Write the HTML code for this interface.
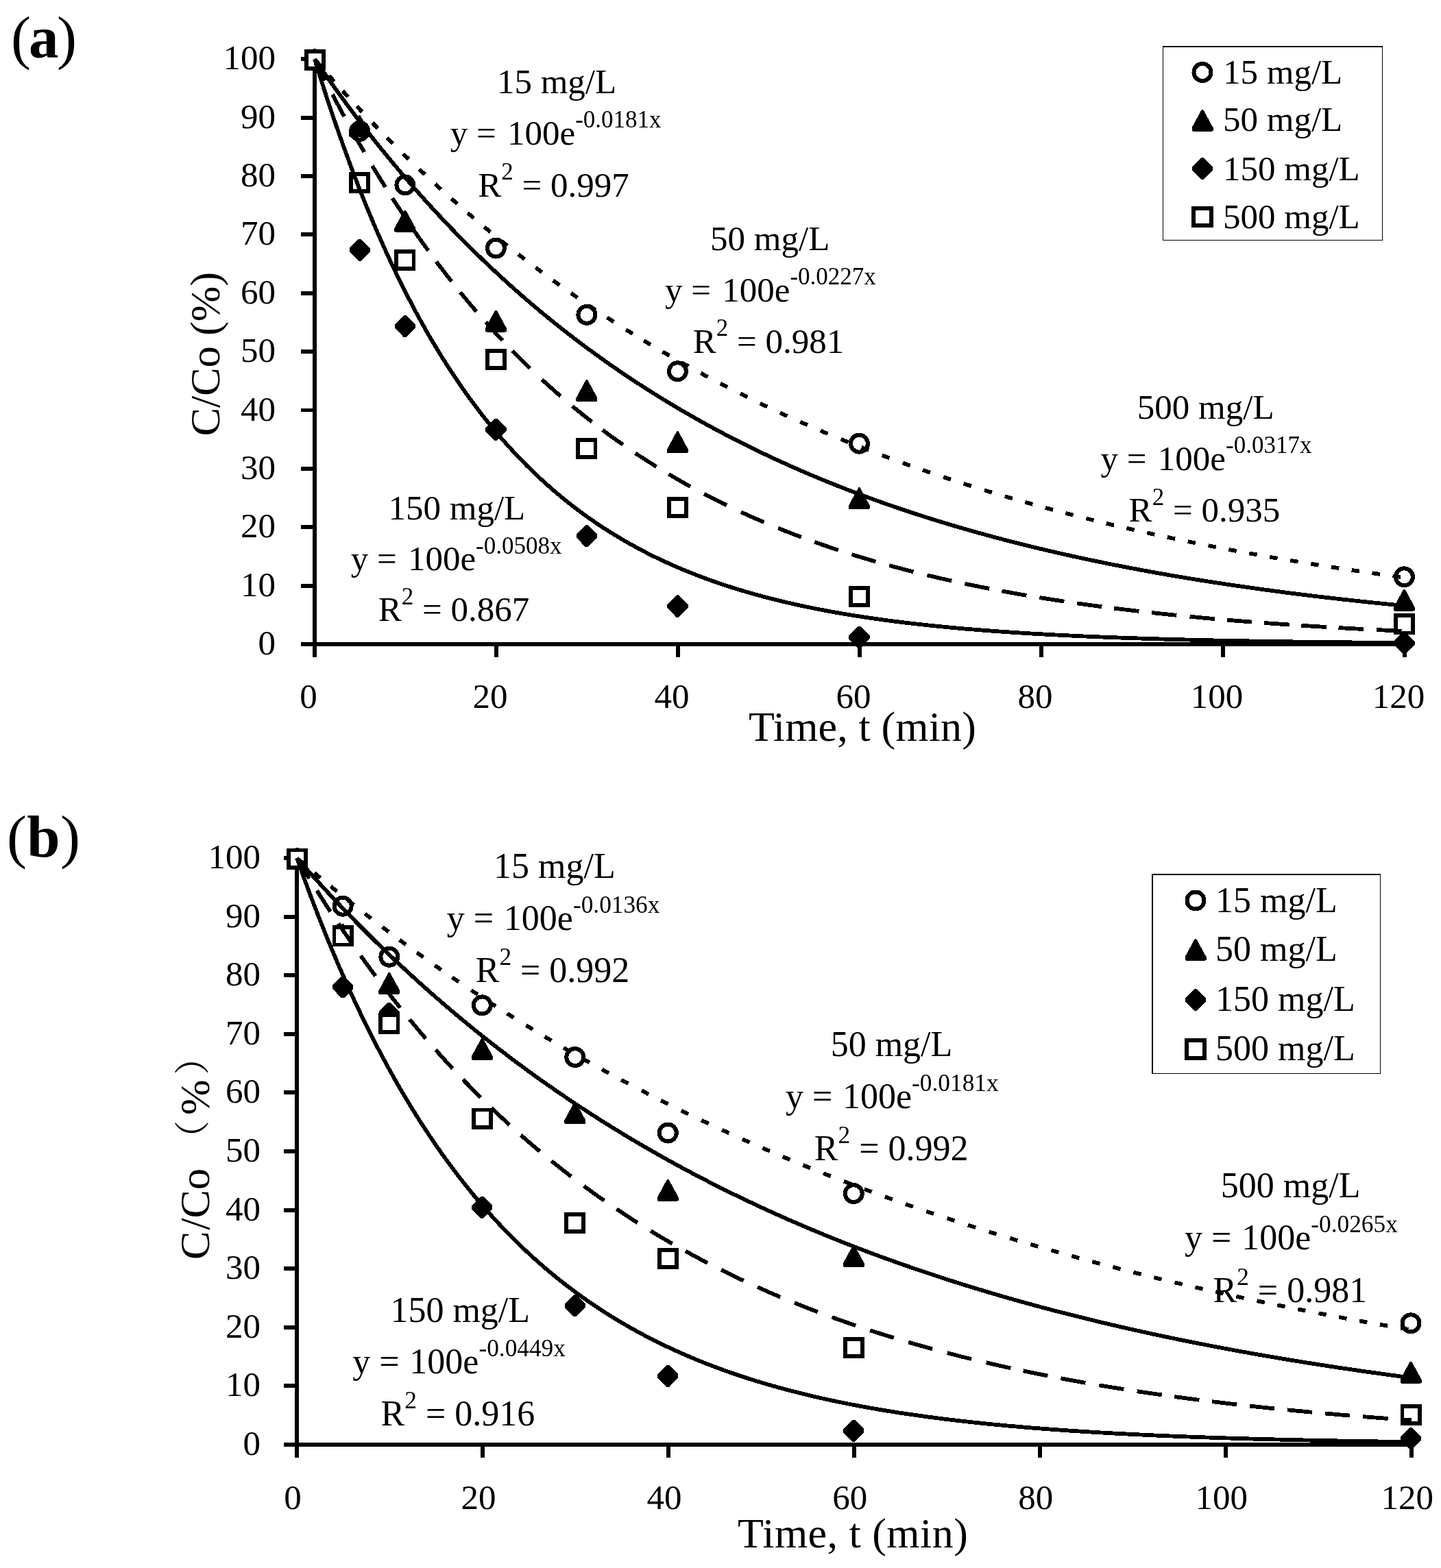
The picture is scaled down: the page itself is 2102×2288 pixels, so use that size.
<!DOCTYPE html>
<html><head><meta charset="utf-8"><title>C/Co vs Time</title>
<style>
html,body{margin:0;padding:0;background:#fff;}
svg{display:block;font-family:"Liberation Serif","Noto Serif CJK SC",serif;}
.cjk{font-family:"Liberation Serif","Noto Serif CJK SC",serif;}
</style></head><body>
<svg shape-rendering="crispEdges" width="2102" height="2288" viewBox="0 0 2102 2288">
<rect width="2102" height="2288" fill="#fff"/>
<text y="83.8" font-size="87"><tspan x="16">(</tspan><tspan x="42" font-weight="bold">a</tspan><tspan x="83">)</tspan></text>
<g stroke="#000" stroke-width="5.9">
<line x1="459" y1="83.3" x2="459" y2="943"/>
<line x1="439" y1="940" x2="2052" y2="940"/>
<line x1="439" y1="940" x2="459" y2="940"/>
<line x1="439" y1="854.63" x2="459" y2="854.63"/>
<line x1="439" y1="769.26" x2="459" y2="769.26"/>
<line x1="439" y1="683.89" x2="459" y2="683.89"/>
<line x1="439" y1="598.52" x2="459" y2="598.52"/>
<line x1="439" y1="513.15" x2="459" y2="513.15"/>
<line x1="439" y1="427.78" x2="459" y2="427.78"/>
<line x1="439" y1="342.41" x2="459" y2="342.41"/>
<line x1="439" y1="257.04" x2="459" y2="257.04"/>
<line x1="439" y1="171.67" x2="459" y2="171.67"/>
<line x1="439" y1="86.3" x2="459" y2="86.3"/>
<line x1="459" y1="940" x2="459" y2="959"/>
<line x1="724" y1="940" x2="724" y2="959"/>
<line x1="989" y1="940" x2="989" y2="959"/>
<line x1="1254" y1="940" x2="1254" y2="959"/>
<line x1="1519" y1="940" x2="1519" y2="959"/>
<line x1="1784" y1="940" x2="1784" y2="959"/>
<line x1="2049" y1="940" x2="2049" y2="959"/>
</g>
<text x="402" y="955" font-size="51" text-anchor="end">0</text>
<text x="402" y="869.63" font-size="51" text-anchor="end">10</text>
<text x="402" y="784.26" font-size="51" text-anchor="end">20</text>
<text x="402" y="698.89" font-size="51" text-anchor="end">30</text>
<text x="402" y="613.52" font-size="51" text-anchor="end">40</text>
<text x="402" y="528.15" font-size="51" text-anchor="end">50</text>
<text x="402" y="442.78" font-size="51" text-anchor="end">60</text>
<text x="402" y="357.41" font-size="51" text-anchor="end">70</text>
<text x="402" y="272.04" font-size="51" text-anchor="end">80</text>
<text x="402" y="186.67" font-size="51" text-anchor="end">90</text>
<text x="402" y="101.3" font-size="51" text-anchor="end">100</text>
<text x="450" y="1032.5" font-size="51" text-anchor="middle">0</text>
<text x="715" y="1032.5" font-size="51" text-anchor="middle">20</text>
<text x="980" y="1032.5" font-size="51" text-anchor="middle">40</text>
<text x="1245" y="1032.5" font-size="51" text-anchor="middle">60</text>
<text x="1510" y="1032.5" font-size="51" text-anchor="middle">80</text>
<text x="1775" y="1032.5" font-size="51" text-anchor="middle">100</text>
<text x="2040" y="1032.5" font-size="51" text-anchor="middle">120</text>
<text x="1092" y="1081.3" font-size="62" textLength="331.8" lengthAdjust="spacing">Time, t (min)</text>
<text transform="translate(319.5 636.3) rotate(-90)" font-size="62">C/Co (%)</text>
<text x="724.9" y="136" font-size="51">15 mg/L</text>
<text x="656.8" y="210.5" font-size="51">y = <tspan dx="3.5">100e</tspan><tspan font-size="35" dy="-24.5">-0.0181x</tspan></text>
<text x="697.3" y="286.5" font-size="51">R<tspan font-size="35" dy="-24.5">2</tspan><tspan dy="24.5"> = 0.997</tspan></text>
<text x="1036.1" y="365" font-size="51">50 mg/L</text>
<text x="970" y="439.6" font-size="51">y = <tspan dx="3.5">100e</tspan><tspan font-size="35" dy="-24.5">-0.0227x</tspan></text>
<text x="1010.8" y="514.7" font-size="51">R<tspan font-size="35" dy="-24.5">2</tspan><tspan dy="24.5"> = 0.981</tspan></text>
<text x="1658.8" y="611" font-size="51">500 mg/L</text>
<text x="1605.6" y="685.7" font-size="51">y = <tspan dx="3.5">100e</tspan><tspan font-size="35" dy="-24.5">-0.0317x</tspan></text>
<text x="1646.6" y="761" font-size="51">R<tspan font-size="35" dy="-24.5">2</tspan><tspan dy="24.5"> = 0.935</tspan></text>
<text x="566.5" y="757.5" font-size="51">150 mg/L</text>
<text x="511.7" y="832" font-size="51">y = <tspan dx="3.5">100e</tspan><tspan font-size="35" dy="-24.5">-0.0508x</tspan></text>
<text x="551.7" y="906" font-size="51">R<tspan font-size="35" dy="-24.5">2</tspan><tspan dy="24.5"> = 0.867</tspan></text>
<rect x="1696" y="67" width="321" height="284" fill="#fff"/>
<line x1="1696.45" y1="67" x2="1696.45" y2="351.1" stroke="#000" stroke-width="1.1"/>
<line x1="1695.9" y1="68" x2="2017.1" y2="68" stroke="#000" stroke-width="2"/>
<line x1="2016.5" y1="67" x2="2016.5" y2="351.1" stroke="#000" stroke-width="1.2"/>
<line x1="1695.9" y1="350.45" x2="2017.1" y2="350.45" stroke="#000" stroke-width="1.3"/>
<circle cx="1754" cy="105.5" r="12.5" fill="#fff" stroke="#000" stroke-width="6"/>
<polygon points="1752.8,160 1755.2,160 1769.5,186.3 1769.5,190.8 1767.2,192 1740.8,192 1738.5,190.8 1738.5,186.3"/>
<polygon points="1752.2,229.9 1755.8,229.9 1769.15,243.4 1769.15,248.6 1755.8,262.1 1752.2,262.1 1738.85,248.6 1738.85,243.4"/>
<rect x="1741.4" y="303.8" width="25.2" height="25.2" fill="#fff" stroke="#000" stroke-width="5.85"/>
<text x="1784" y="122" font-size="51">15 mg/L</text>
<text x="1784" y="191.2" font-size="51">50 mg/L</text>
<text x="1784" y="263.3" font-size="51">150 mg/L</text>
<text x="1784" y="332.5" font-size="51">500 mg/L</text>
<circle cx="459.5" cy="87.4" r="12.5" fill="#fff" stroke="#000" stroke-width="6"/>
<circle cx="524.65" cy="191.31" r="12.5" fill="#fff" stroke="#000" stroke-width="6"/>
<circle cx="590.9" cy="269.85" r="12.5" fill="#fff" stroke="#000" stroke-width="6"/>
<circle cx="723.4" cy="362.05" r="12.5" fill="#fff" stroke="#000" stroke-width="6"/>
<circle cx="855.9" cy="459.37" r="12.5" fill="#fff" stroke="#000" stroke-width="6"/>
<circle cx="988.4" cy="541.75" r="12.5" fill="#fff" stroke="#000" stroke-width="6"/>
<circle cx="1253.4" cy="647.18" r="12.5" fill="#fff" stroke="#000" stroke-width="6"/>
<circle cx="2048.4" cy="841.82" r="12.5" fill="#fff" stroke="#000" stroke-width="6"/>
<polygon points="458.3,71.4 460.7,71.4 475,97.7 475,102.2 472.7,103.4 446.3,103.4 444,102.2 444,97.7"/>
<polygon points="523.45,168.48 525.85,168.48 540.15,194.78 540.15,199.28 537.85,200.48 511.45,200.48 509.15,199.28 509.15,194.78"/>
<polygon points="589.7,306.77 592.1,306.77 606.4,333.07 606.4,337.57 604.1,338.77 577.7,338.77 575.4,337.57 575.4,333.07"/>
<polygon points="722.2,452.76 724.6,452.76 738.9,479.06 738.9,483.56 736.6,484.76 710.2,484.76 707.9,483.56 707.9,479.06"/>
<polygon points="854.7,554.35 857.1,554.35 871.4,580.65 871.4,585.15 869.1,586.35 842.7,586.35 840.4,585.15 840.4,580.65"/>
<polygon points="987.2,629.47 989.6,629.47 1003.9,655.77 1003.9,660.27 1001.6,661.47 975.2,661.47 972.9,660.27 972.9,655.77"/>
<polygon points="1252.2,711.43 1254.6,711.43 1268.9,737.73 1268.9,742.23 1266.6,743.43 1240.2,743.43 1237.9,742.23 1237.9,737.73"/>
<polygon points="2047.2,859.97 2049.6,859.97 2063.9,886.27 2063.9,890.77 2061.6,891.97 2035.2,891.97 2032.9,890.77 2032.9,886.27"/>
<polygon points="457.7,71.3 461.3,71.3 474.65,84.8 474.65,90 461.3,103.5 457.7,103.5 444.35,90 444.35,84.8"/>
<polygon points="522.85,348.51 526.45,348.51 539.8,362.01 539.8,367.21 526.45,380.71 522.85,380.71 509.5,367.21 509.5,362.01"/>
<polygon points="589.1,459.91 592.7,459.91 606.05,473.41 606.05,478.61 592.7,492.11 589.1,492.11 575.75,478.61 575.75,473.41"/>
<polygon points="721.6,610.59 725.2,610.59 738.55,624.09 738.55,629.29 725.2,642.79 721.6,642.79 708.25,629.29 708.25,624.09"/>
<polygon points="854.1,765.97 857.7,765.97 871.05,779.47 871.05,784.67 857.7,798.17 854.1,798.17 840.75,784.67 840.75,779.47"/>
<polygon points="986.6,868.41 990.2,868.41 1003.55,881.91 1003.55,887.11 990.2,900.61 986.6,900.61 973.25,887.11 973.25,881.91"/>
<polygon points="1251.6,913.66 1255.2,913.66 1268.55,927.16 1268.55,932.36 1255.2,945.86 1251.6,945.86 1238.25,932.36 1238.25,927.16"/>
<polygon points="2046.6,922.19 2050.2,922.19 2063.55,935.69 2063.55,940.89 2050.2,954.39 2046.6,954.39 2033.25,940.89 2033.25,935.69"/>
<rect x="446.9" y="74.8" width="25.2" height="25.2" fill="#fff" stroke="#000" stroke-width="5.85"/>
<rect x="512.05" y="253.83" width="25.2" height="25.2" fill="#fff" stroke="#000" stroke-width="5.85"/>
<rect x="578.3" y="366.95" width="25.2" height="25.2" fill="#fff" stroke="#000" stroke-width="5.85"/>
<rect x="710.8" y="511.65" width="25.2" height="25.2" fill="#fff" stroke="#000" stroke-width="5.85"/>
<rect x="843.3" y="641.84" width="25.2" height="25.2" fill="#fff" stroke="#000" stroke-width="5.85"/>
<rect x="975.8" y="728.06" width="25.2" height="25.2" fill="#fff" stroke="#000" stroke-width="5.85"/>
<rect x="1240.8" y="857.91" width="25.2" height="25.2" fill="#fff" stroke="#000" stroke-width="5.85"/>
<rect x="2035.8" y="898.37" width="25.2" height="25.2" fill="#fff" stroke="#000" stroke-width="5.85"/>
<g fill="none" stroke="#000" stroke-width="5.8" stroke-linejoin="round">
<path d="M459 86.3 459.33 86.69 460 87.47 460.92 88.54 462.04 89.84 463.35 91.35 464.82 93.06 466.45 94.94 468.22 96.98 470.13 99.18 472.17 101.53 474.35 104.01 476.64 106.62 479.05 109.36 481.57 112.22 484.21 115.19 486.95 118.28 489.79 121.47 492.74 124.76 495.79 128.15 498.94 131.63 502.18 135.2 505.52 138.86 508.95 142.61 512.47 146.43 516.08 150.33 519.77 154.31 523.56 158.36 527.42 162.48 531.37 166.66 535.41 170.91 539.52 175.23 543.72 179.6 548 184.03 552.35 188.51 556.78 193.04 561.29 197.63 565.87 202.26 570.53 206.94 575.27 211.67 580.07 216.43 584.95 221.24 589.9 226.09 594.92 230.97 600.02 235.88 605.18 240.83 610.41 245.81 615.71 250.82 621.08 255.86 626.52 260.92 632.02 266 637.59 271.11 643.23 276.24 648.93 281.39 654.69 286.56 660.53 291.74 666.42 296.94 672.38 302.15 678.4 307.38 684.48 312.61 690.63 317.86 696.84 323.11 703.1 328.37 709.43 333.64 715.82 338.91 722.28 344.18 728.79 349.46 735.36 354.73 741.98 360.01 748.67 365.28 755.42 370.56 762.22 375.82 769.09 381.09 776 386.35 782.98 391.6 790.01 396.84 797.1 402.08 804.25 407.3 811.45 412.52 818.71 417.72 826.02 422.91 833.39 428.09 840.81 433.25 848.29 438.4 855.82 443.54 863.41 448.66 871.05 453.76 878.74 458.84 886.49 463.9 894.28 468.95 902.14 473.98 910.04 478.98 918 483.96 926.01 488.93 934.07 493.86 942.18 498.78 950.34 503.67 958.56 508.54 966.82 513.39 975.14 518.21 983.5 523 991.92 527.77 1000.39 532.51 1008.91 537.22 1017.47 541.91 1026.09 546.57 1034.76 551.2 1043.47 555.8 1052.24 560.37 1061.05 564.91 1069.91 569.43 1078.82 573.91 1087.78 578.36 1096.79 582.78 1105.84 587.18 1114.94 591.53 1124.09 595.86 1133.29 600.16 1142.53 604.42 1151.83 608.66 1161.16 612.86 1170.55 617.02 1179.98 621.16 1189.46 625.26 1198.99 629.33 1208.56 633.37 1218.18 637.37 1227.84 641.34 1237.55 645.27 1247.3 649.17 1257.1 653.04 1266.95 656.87 1276.84 660.67 1286.77 664.44 1296.75 668.17 1306.78 671.87 1316.85 675.53 1326.96 679.16 1337.12 682.75 1347.33 686.32 1357.57 689.84 1367.87 693.33 1378.2 696.79 1388.58 700.22 1399 703.61 1409.47 706.96 1419.98 710.28 1430.53 713.57 1441.13 716.82 1451.77 720.04 1462.45 723.23 1473.17 726.38 1483.94 729.5 1494.75 732.59 1505.6 735.64 1516.5 738.66 1527.44 741.65 1538.42 744.6 1549.44 747.52 1560.5 750.41 1571.61 753.26 1582.75 756.08 1593.94 758.87 1605.17 761.63 1616.44 764.35 1627.75 767.05 1639.11 769.71 1650.5 772.34 1661.94 774.94 1673.42 777.51 1684.93 780.04 1696.49 782.55 1708.09 785.02 1719.73 787.47 1731.41 789.88 1743.13 792.27 1754.89 794.62 1766.69 796.95 1778.54 799.24 1790.42 801.51 1802.34 803.74 1814.3 805.95 1826.3 808.13 1838.34 810.28 1850.42 812.41 1862.54 814.5 1874.7 816.57 1886.89 818.61 1899.13 820.62 1911.41 822.61 1923.72 824.56 1936.07 826.5 1948.47 828.4 1960.9 830.28 1973.37 832.13 1985.88 833.96 1998.43 835.76 2011.01 837.54 2023.64 839.29 2036.3 841.02 2049 842.72" stroke-dasharray="0 1.35 11.5 18.8 11.5 18.8 11.5 18.8 11.5 21.5 11.5 19.3 11.5 21.3 11.5 21.1 11.5 20.3 11.5 20.3 11.5 20.3 11.5 20.3 11.5 20.3 11.5 20.3 11.5 20.3 11.5 20.3 11.5 20.3 11.5 20.3 11.5 20.3 11.5 21.31 11.5 18.87 11.5 20.43 11.5 20.5 11.5 20.5 11.5 20.7 11.5 21.11 11.5 20.73 11.5 20.73 11.5 20.73 11.5 20.73 11.5 20.73 11.5 20.73 11.5 20.73 11.5 20.73 11.5 19.5 11.5 20.22 11.5 19.62 11.5 20.18 11.5 19.7 11.5 19.24 11.5 19.15 11.5 19.01 11.5 19.4 11.5 18.93 11.5 18.93 11.5 18.93 11.5 18.93 11.5 18.93 11.5 18.93 11.5 18.93 11.5 18.93 11.5 18.93 11.5 18.93 11.5 18.93 11.5 18.36 11.5 18.73 11.5 18.7 11.5 18.7 11.5 18.7 11.5 1000"/>
<path d="M459 86.3 459.33 86.78 460 87.77 460.92 89.1 462.04 90.74 463.35 92.63 464.82 94.77 466.45 97.12 468.22 99.68 470.13 102.43 472.17 105.35 474.35 108.45 476.64 111.71 479.05 115.12 481.57 118.68 484.21 122.38 486.95 126.21 489.79 130.17 492.74 134.25 495.79 138.45 498.94 142.76 502.18 147.18 505.52 151.7 508.95 156.31 512.47 161.02 516.08 165.83 519.77 170.71 523.56 175.68 527.42 180.73 531.37 185.85 535.41 191.05 539.52 196.31 543.72 201.64 548 207.03 552.35 212.47 556.78 217.98 561.29 223.53 565.87 229.13 570.53 234.79 575.27 240.48 580.07 246.22 584.95 251.99 589.9 257.8 594.92 263.65 600.02 269.52 605.18 275.43 610.41 281.36 615.71 287.31 621.08 293.29 626.52 299.28 632.02 305.3 637.59 311.32 643.23 317.37 648.93 323.42 654.69 329.48 660.53 335.55 666.42 341.62 672.38 347.7 678.4 353.77 684.48 359.85 690.63 365.93 696.84 372 703.1 378.07 709.43 384.13 715.82 390.18 722.28 396.23 728.79 402.26 735.36 408.28 741.98 414.28 748.67 420.27 755.42 426.24 762.22 432.2 769.09 438.13 776 444.05 782.98 449.94 790.01 455.81 797.1 461.65 804.25 467.47 811.45 473.27 818.71 479.04 826.02 484.77 833.39 490.48 840.81 496.16 848.29 501.81 855.82 507.43 863.41 513.02 871.05 518.57 878.74 524.09 886.49 529.57 894.28 535.02 902.14 540.43 910.04 545.8 918 551.14 926.01 556.44 934.07 561.7 942.18 566.92 950.34 572.1 958.56 577.24 966.82 582.34 975.14 587.4 983.5 592.42 991.92 597.4 1000.39 602.33 1008.91 607.22 1017.47 612.07 1026.09 616.88 1034.76 621.64 1043.47 626.36 1052.24 631.03 1061.05 635.66 1069.91 640.25 1078.82 644.79 1087.78 649.28 1096.79 653.73 1105.84 658.14 1114.94 662.5 1124.09 666.82 1133.29 671.09 1142.53 675.31 1151.83 679.49 1161.16 683.63 1170.55 687.72 1179.98 691.76 1189.46 695.76 1198.99 699.71 1208.56 703.62 1218.18 707.48 1227.84 711.3 1237.55 715.08 1247.3 718.8 1257.1 722.49 1266.95 726.12 1276.84 729.72 1286.77 733.27 1296.75 736.77 1306.78 740.23 1316.85 743.65 1326.96 747.02 1337.12 750.35 1347.33 753.64 1357.57 756.88 1367.87 760.08 1378.2 763.24 1388.58 766.35 1399 769.43 1409.47 772.46 1419.98 775.45 1430.53 778.4 1441.13 781.3 1451.77 784.17 1462.45 787 1473.17 789.78 1483.94 792.53 1494.75 795.23 1505.6 797.9 1516.5 800.53 1527.44 803.12 1538.42 805.67 1549.44 808.18 1560.5 810.66 1571.61 813.09 1582.75 815.49 1593.94 817.86 1605.17 820.18 1616.44 822.48 1627.75 824.73 1639.11 826.95 1650.5 829.14 1661.94 831.29 1673.42 833.41 1684.93 835.49 1696.49 837.54 1708.09 839.55 1719.73 841.54 1731.41 843.49 1743.13 845.41 1754.89 847.29 1766.69 849.15 1778.54 850.97 1790.42 852.77 1802.34 854.53 1814.3 856.26 1826.3 857.97 1838.34 859.64 1850.42 861.29 1862.54 862.91 1874.7 864.49 1886.89 866.06 1899.13 867.59 1911.41 869.1 1923.72 870.58 1936.07 872.03 1948.47 873.46 1960.9 874.86 1973.37 876.24 1985.88 877.59 1998.43 878.92 2011.01 880.22 2023.64 881.5 2036.3 882.76 2049 883.99"/>
<path d="M459 86.3 459.33 87.38 460 89.58 460.92 92.56 462.04 96.2 463.35 100.41 464.82 105.13 466.45 110.33 468.22 115.95 470.13 121.97 472.17 128.35 474.35 135.08 476.64 142.12 479.05 149.46 481.57 157.07 484.21 164.94 486.95 173.04 489.79 181.37 492.74 189.9 495.79 198.61 498.94 207.51 502.18 216.56 505.52 225.75 508.95 235.08 512.47 244.53 516.08 254.09 519.77 263.74 523.56 273.47 527.42 283.29 531.37 293.16 535.41 303.09 539.52 313.06 543.72 323.06 548 333.1 552.35 343.14 556.78 353.2 561.29 363.25 565.87 373.3 570.53 383.33 575.27 393.34 580.07 403.32 584.95 413.27 589.9 423.17 594.92 433.03 600.02 442.83 605.18 452.58 610.41 462.26 615.71 471.87 621.08 481.41 626.52 490.87 632.02 500.24 637.59 509.54 643.23 518.74 648.93 527.84 654.69 536.86 660.53 545.77 666.42 554.58 672.38 563.28 678.4 571.88 684.48 580.37 690.63 588.74 696.84 597 703.1 605.15 709.43 613.18 715.82 621.09 722.28 628.88 728.79 636.55 735.36 644.09 741.98 651.52 748.67 658.82 755.42 666 762.22 673.06 769.09 679.99 776 686.8 782.98 693.48 790.01 700.04 797.1 706.47 804.25 712.78 811.45 718.97 818.71 725.04 826.02 730.98 833.39 736.8 840.81 742.5 848.29 748.08 855.82 753.55 863.41 758.89 871.05 764.12 878.74 769.23 886.49 774.23 894.28 779.11 902.14 783.88 910.04 788.54 918 793.09 926.01 797.53 934.07 801.87 942.18 806.1 950.34 810.23 958.56 814.25 966.82 818.17 975.14 821.99 983.5 825.72 991.92 829.35 1000.39 832.88 1008.91 836.33 1017.47 839.68 1026.09 842.94 1034.76 846.11 1043.47 849.19 1052.24 852.19 1061.05 855.11 1069.91 857.95 1078.82 860.7 1087.78 863.38 1096.79 865.98 1105.84 868.51 1114.94 870.96 1124.09 873.34 1133.29 875.65 1142.53 877.89 1151.83 880.06 1161.16 882.17 1170.55 884.21 1179.98 886.2 1189.46 888.12 1198.99 889.98 1208.56 891.78 1218.18 893.52 1227.84 895.21 1237.55 896.85 1247.3 898.43 1257.1 899.97 1266.95 901.45 1276.84 902.89 1286.77 904.27 1296.75 905.61 1306.78 906.91 1316.85 908.16 1326.96 909.37 1337.12 910.54 1347.33 911.67 1357.57 912.77 1367.87 913.82 1378.2 914.84 1388.58 915.82 1399 916.77 1409.47 917.68 1419.98 918.56 1430.53 919.41 1441.13 920.23 1451.77 921.02 1462.45 921.78 1473.17 922.52 1483.94 923.22 1494.75 923.9 1505.6 924.56 1516.5 925.19 1527.44 925.8 1538.42 926.39 1549.44 926.95 1560.5 927.49 1571.61 928.01 1582.75 928.51 1593.94 929 1605.17 929.46 1616.44 929.91 1627.75 930.33 1639.11 930.75 1650.5 931.14 1661.94 931.52 1673.42 931.89 1684.93 932.24 1696.49 932.57 1708.09 932.9 1719.73 933.21 1731.41 933.5 1743.13 933.79 1754.89 934.06 1766.69 934.33 1778.54 934.58 1790.42 934.82 1802.34 935.05 1814.3 935.27 1826.3 935.48 1838.34 935.69 1850.42 935.88 1862.54 936.07 1874.7 936.25 1886.89 936.42 1899.13 936.59 1911.41 936.74 1923.72 936.89 1936.07 937.04 1948.47 937.17 1960.9 937.31 1973.37 937.43 1985.88 937.55 1998.43 937.67 2011.01 937.78 2023.64 937.88 2036.3 937.98 2049 938.08"/>
<path d="M459 86.3 459.33 86.98 460 88.35 460.92 90.21 462.04 92.49 463.35 95.13 464.82 98.1 466.45 101.37 468.22 104.92 470.13 108.73 472.17 112.79 474.35 117.07 476.64 121.57 479.05 126.28 481.57 131.18 484.21 136.26 486.95 141.51 489.79 146.93 492.74 152.51 495.79 158.23 498.94 164.1 502.18 170.09 505.52 176.21 508.95 182.46 512.47 188.81 516.08 195.27 519.77 201.82 523.56 208.47 527.42 215.21 531.37 222.03 535.41 228.93 539.52 235.89 543.72 242.93 548 250.02 552.35 257.17 556.78 264.37 561.29 271.62 565.87 278.91 570.53 286.24 575.27 293.6 580.07 300.99 584.95 308.41 589.9 315.84 594.92 323.3 600.02 330.77 605.18 338.25 610.41 345.73 615.71 353.22 621.08 360.71 626.52 368.19 632.02 375.67 637.59 383.14 643.23 390.6 648.93 398.04 654.69 405.47 660.53 412.87 666.42 420.26 672.38 427.61 678.4 434.94 684.48 442.24 690.63 449.5 696.84 456.73 703.1 463.93 709.43 471.08 715.82 478.2 722.28 485.27 728.79 492.3 735.36 499.28 741.98 506.21 748.67 513.1 755.42 519.93 762.22 526.72 769.09 533.45 776 540.12 782.98 546.74 790.01 553.3 797.1 559.81 804.25 566.25 811.45 572.64 818.71 578.96 826.02 585.22 833.39 591.42 840.81 597.56 848.29 603.63 855.82 609.63 863.41 615.58 871.05 621.45 878.74 627.26 886.49 633 894.28 638.68 902.14 644.28 910.04 649.82 918 655.3 926.01 660.7 934.07 666.03 942.18 671.3 950.34 676.5 958.56 681.62 966.82 686.68 975.14 691.67 983.5 696.59 991.92 701.45 1000.39 706.23 1008.91 710.95 1017.47 715.59 1026.09 720.17 1034.76 724.68 1043.47 729.13 1052.24 733.5 1061.05 737.81 1069.91 742.05 1078.82 746.23 1087.78 750.34 1096.79 754.38 1105.84 758.36 1114.94 762.27 1124.09 766.12 1133.29 769.9 1142.53 773.62 1151.83 777.28 1161.16 780.88 1170.55 784.41 1179.98 787.88 1189.46 791.29 1198.99 794.64 1208.56 797.93 1218.18 801.16 1227.84 804.34 1237.55 807.45 1247.3 810.51 1257.1 813.51 1266.95 816.46 1276.84 819.34 1286.77 822.18 1296.75 824.96 1306.78 827.69 1316.85 830.36 1326.96 832.98 1337.12 835.55 1347.33 838.07 1357.57 840.54 1367.87 842.96 1378.2 845.33 1388.58 847.65 1399 849.92 1409.47 852.15 1419.98 854.33 1430.53 856.47 1441.13 858.56 1451.77 860.61 1462.45 862.61 1473.17 864.57 1483.94 866.49 1494.75 868.36 1505.6 870.2 1516.5 872 1527.44 873.75 1538.42 875.47 1549.44 877.15 1560.5 878.79 1571.61 880.4 1582.75 881.96 1593.94 883.5 1605.17 885 1616.44 886.46 1627.75 887.89 1639.11 889.28 1650.5 890.65 1661.94 891.98 1673.42 893.28 1684.93 894.55 1696.49 895.79 1708.09 897 1719.73 898.18 1731.41 899.33 1743.13 900.46 1754.89 901.56 1766.69 902.63 1778.54 903.67 1790.42 904.69 1802.34 905.68 1814.3 906.65 1826.3 907.59 1838.34 908.51 1850.42 909.41 1862.54 910.28 1874.7 911.14 1886.89 911.97 1899.13 912.77 1911.41 913.56 1923.72 914.33 1936.07 915.08 1948.47 915.81 1960.9 916.52 1973.37 917.21 1985.88 917.88 1998.43 918.53 2011.01 919.17 2023.64 919.79 2036.3 920.39 2049 920.98" stroke-dasharray="34.6 23.1 36.5 23.1 36.5 23.1 36.5 19.1 36.5 19.8 36.5 19.8 36.5 20.4 36.5 20.55 36.5 20.55 36.5 23.8 36.5 22.6 36.5 19.6 36.5 22.01 36.5 20.94 36.5 22.84 36.5 23.47 36.5 22.34 36.5 20.58 36.5 20.58 36.5 20.58 36.5 20.58 36.5 19.68 36.5 18.76 36.5 19.23 36.5 18.93 36.5 17.98 36.5 18.68 36.5 19.29 36.5 18.1 36.5 18.1 36.5 17.73 36.5 17.7 36.5 19.08 36.5 18 36.5 1000"/>
</g>
<text y="1249.7" font-size="87"><tspan x="9.9">(</tspan><tspan x="39.2" font-weight="bold">b</tspan><tspan x="88">)</tspan></text>
<g stroke="#000" stroke-width="5.9">
<line x1="433" y1="1249" x2="433" y2="2111"/>
<line x1="414" y1="2108" x2="2061.64" y2="2108"/>
<line x1="414" y1="2108" x2="433" y2="2108"/>
<line x1="414" y1="2022.4" x2="433" y2="2022.4"/>
<line x1="414" y1="1936.8" x2="433" y2="1936.8"/>
<line x1="414" y1="1851.2" x2="433" y2="1851.2"/>
<line x1="414" y1="1765.6" x2="433" y2="1765.6"/>
<line x1="414" y1="1680" x2="433" y2="1680"/>
<line x1="414" y1="1594.4" x2="433" y2="1594.4"/>
<line x1="414" y1="1508.8" x2="433" y2="1508.8"/>
<line x1="414" y1="1423.2" x2="433" y2="1423.2"/>
<line x1="414" y1="1337.6" x2="433" y2="1337.6"/>
<line x1="414" y1="1252" x2="433" y2="1252"/>
<line x1="433" y1="2108" x2="433" y2="2127"/>
<line x1="703.94" y1="2108" x2="703.94" y2="2127"/>
<line x1="974.88" y1="2108" x2="974.88" y2="2127"/>
<line x1="1245.82" y1="2108" x2="1245.82" y2="2127"/>
<line x1="1516.76" y1="2108" x2="1516.76" y2="2127"/>
<line x1="1787.7" y1="2108" x2="1787.7" y2="2127"/>
<line x1="2058.64" y1="2108" x2="2058.64" y2="2127"/>
</g>
<text x="380" y="2123" font-size="51" text-anchor="end">0</text>
<text x="380" y="2037.4" font-size="51" text-anchor="end">10</text>
<text x="380" y="1951.8" font-size="51" text-anchor="end">20</text>
<text x="380" y="1866.2" font-size="51" text-anchor="end">30</text>
<text x="380" y="1780.6" font-size="51" text-anchor="end">40</text>
<text x="380" y="1695" font-size="51" text-anchor="end">50</text>
<text x="380" y="1609.4" font-size="51" text-anchor="end">60</text>
<text x="380" y="1523.8" font-size="51" text-anchor="end">70</text>
<text x="380" y="1438.2" font-size="51" text-anchor="end">80</text>
<text x="380" y="1352.6" font-size="51" text-anchor="end">90</text>
<text x="380" y="1267" font-size="51" text-anchor="end">100</text>
<text x="427" y="2201.5" font-size="51" text-anchor="middle">0</text>
<text x="697.94" y="2201.5" font-size="51" text-anchor="middle">20</text>
<text x="968.88" y="2201.5" font-size="51" text-anchor="middle">40</text>
<text x="1239.82" y="2201.5" font-size="51" text-anchor="middle">60</text>
<text x="1510.76" y="2201.5" font-size="51" text-anchor="middle">80</text>
<text x="1781.7" y="2201.5" font-size="51" text-anchor="middle">100</text>
<text x="2052.64" y="2201.5" font-size="51" text-anchor="middle">120</text>
<text x="1076" y="2258" font-size="62" textLength="335.9" lengthAdjust="spacing">Time, t (min)</text>
<text transform="translate(305 1838) rotate(-90)" font-size="62" class="cjk">C<tspan dx="2">/Co</tspan><tspan dx="18" dy="-6" font-size="52">（</tspan><tspan dx="8.1" dy="6">%</tspan><tspan dx="6.7" dy="-6" font-size="52">）</tspan></text>
<text x="720.12" y="1281.3" font-size="52">15 mg/L</text>
<text x="651.7" y="1356.9" font-size="52">y = <tspan dx="1.8">100e</tspan><tspan font-size="35.3" dy="-25">-0.0136x</tspan></text>
<text x="693.7" y="1432.5" font-size="52">R<tspan font-size="35.3" dy="-25">2</tspan><tspan dy="25"> = 0.992</tspan></text>
<text x="1211.64" y="1540.9" font-size="52">50 mg/L</text>
<text x="1145.9" y="1616.5" font-size="52">y = <tspan dx="1.8">100e</tspan><tspan font-size="35.3" dy="-25">-0.0181x</tspan></text>
<text x="1187.8" y="1692.5" font-size="52">R<tspan font-size="35.3" dy="-25">2</tspan><tspan dy="25"> = 0.992</tspan></text>
<text x="1780.74" y="1746.8" font-size="52">500 mg/L</text>
<text x="1728.1" y="1823.1" font-size="52">y = <tspan dx="1.8">100e</tspan><tspan font-size="35.3" dy="-25">-0.0265x</tspan></text>
<text x="1769.5" y="1899.7" font-size="52">R<tspan font-size="35.3" dy="-25">2</tspan><tspan dy="25"> = 0.981</tspan></text>
<text x="569.42" y="1928.7" font-size="52">150 mg/L</text>
<text x="514.2" y="2003.7" font-size="52">y = <tspan dx="1.8">100e</tspan><tspan font-size="35.3" dy="-25">-0.0449x</tspan></text>
<text x="555.6" y="2079.7" font-size="52">R<tspan font-size="35.3" dy="-25">2</tspan><tspan dy="25"> = 0.916</tspan></text>
<rect x="1680" y="1275" width="334" height="292" fill="#fff"/>
<line x1="1681" y1="1275" x2="1681" y2="1567" stroke="#000" stroke-width="2"/>
<line x1="1680" y1="1276" x2="2014" y2="1276" stroke="#000" stroke-width="2"/>
<line x1="2013.4" y1="1275" x2="2013.4" y2="1567" stroke="#000" stroke-width="1.2"/>
<line x1="1680" y1="1566.45" x2="2014" y2="1566.45" stroke="#000" stroke-width="1.1"/>
<circle cx="1744" cy="1314" r="12.5" fill="#fff" stroke="#000" stroke-width="6"/>
<polygon points="1742.8,1370 1745.2,1370 1759.5,1396.3 1759.5,1400.8 1757.2,1402 1730.8,1402 1728.5,1400.8 1728.5,1396.3"/>
<polygon points="1742.2,1442.9 1745.8,1442.9 1759.15,1456.4 1759.15,1461.6 1745.8,1475.1 1742.2,1475.1 1728.85,1461.6 1728.85,1456.4"/>
<rect x="1731.4" y="1518.4" width="25.2" height="25.2" fill="#fff" stroke="#000" stroke-width="5.85"/>
<text x="1773" y="1330.5" font-size="52">15 mg/L</text>
<text x="1773" y="1402.3" font-size="52">50 mg/L</text>
<text x="1773" y="1474.9" font-size="52">150 mg/L</text>
<text x="1773" y="1547.3" font-size="52">500 mg/L</text>
<circle cx="433.5" cy="1253.1" r="12.5" fill="#fff" stroke="#000" stroke-width="6"/>
<circle cx="500.13" cy="1322.19" r="12.5" fill="#fff" stroke="#000" stroke-width="6"/>
<circle cx="567.87" cy="1396.24" r="12.5" fill="#fff" stroke="#000" stroke-width="6"/>
<circle cx="703.34" cy="1466.86" r="12.5" fill="#fff" stroke="#000" stroke-width="6"/>
<circle cx="838.81" cy="1542.61" r="12.5" fill="#fff" stroke="#000" stroke-width="6"/>
<circle cx="974.28" cy="1653.04" r="12.5" fill="#fff" stroke="#000" stroke-width="6"/>
<circle cx="1245.22" cy="1741.63" r="12.5" fill="#fff" stroke="#000" stroke-width="6"/>
<circle cx="2058.04" cy="1930.81" r="12.5" fill="#fff" stroke="#000" stroke-width="6"/>
<polygon points="432.3,1237.1 434.7,1237.1 449,1263.4 449,1267.9 446.7,1269.1 420.3,1269.1 418,1267.9 418,1263.4"/>
<polygon points="498.94,1348.14 501.33,1348.14 515.63,1374.44 515.63,1378.94 513.34,1380.14 486.94,1380.14 484.63,1378.94 484.63,1374.44"/>
<polygon points="566.67,1419.18 569.07,1419.18 583.37,1445.48 583.37,1449.98 581.07,1451.18 554.67,1451.18 552.37,1449.98 552.37,1445.48"/>
<polygon points="702.14,1515.06 704.54,1515.06 718.84,1541.36 718.84,1545.86 716.54,1547.06 690.14,1547.06 687.84,1545.86 687.84,1541.36"/>
<polygon points="837.61,1608.36 840.01,1608.36 854.31,1634.66 854.31,1639.16 852.01,1640.36 825.61,1640.36 823.31,1639.16 823.31,1634.66"/>
<polygon points="973.08,1720.92 975.48,1720.92 989.78,1747.22 989.78,1751.72 987.48,1752.92 961.08,1752.92 958.78,1751.72 958.78,1747.22"/>
<polygon points="1244.02,1817.22 1246.42,1817.22 1260.72,1843.52 1260.72,1848.02 1258.42,1849.22 1232.02,1849.22 1229.72,1848.02 1229.72,1843.52"/>
<polygon points="2056.84,1986.71 2059.24,1986.71 2073.54,2013.01 2073.54,2017.51 2071.24,2018.71 2044.84,2018.71 2042.54,2017.51 2042.54,2013.01"/>
<polygon points="431.7,1237 435.3,1237 448.65,1250.5 448.65,1255.7 435.3,1269.2 431.7,1269.2 418.35,1255.7 418.35,1250.5"/>
<polygon points="498.33,1424.22 501.94,1424.22 515.28,1437.72 515.28,1442.92 501.94,1456.42 498.33,1456.42 484.99,1442.92 484.99,1437.72"/>
<polygon points="566.07,1462.74 569.67,1462.74 583.02,1476.24 583.02,1481.44 569.67,1494.94 566.07,1494.94 552.72,1481.44 552.72,1476.24"/>
<polygon points="701.54,1745.65 705.14,1745.65 718.49,1759.15 718.49,1764.35 705.14,1777.85 701.54,1777.85 688.19,1764.35 688.19,1759.15"/>
<polygon points="837.01,1889.03 840.61,1889.03 853.96,1902.53 853.96,1907.73 840.61,1921.23 837.01,1921.23 823.66,1907.73 823.66,1902.53"/>
<polygon points="972.48,1991.75 976.08,1991.75 989.43,2005.25 989.43,2010.45 976.08,2023.95 972.48,2023.95 959.13,2010.45 959.13,2005.25"/>
<polygon points="1243.42,2071.78 1247.02,2071.78 1260.37,2085.28 1260.37,2090.48 1247.02,2103.98 1243.42,2103.98 1230.07,2090.48 1230.07,2085.28"/>
<polygon points="2056.24,2082.91 2059.84,2082.91 2073.19,2096.41 2073.19,2101.61 2059.84,2115.11 2056.24,2115.11 2042.89,2101.61 2042.89,2096.41"/>
<rect x="420.9" y="1240.5" width="25.2" height="25.2" fill="#fff" stroke="#000" stroke-width="5.85"/>
<rect x="487.53" y="1353.25" width="25.2" height="25.2" fill="#fff" stroke="#000" stroke-width="5.85"/>
<rect x="555.27" y="1480.79" width="25.2" height="25.2" fill="#fff" stroke="#000" stroke-width="5.85"/>
<rect x="690.74" y="1619.46" width="25.2" height="25.2" fill="#fff" stroke="#000" stroke-width="5.85"/>
<rect x="826.21" y="1771.83" width="25.2" height="25.2" fill="#fff" stroke="#000" stroke-width="5.85"/>
<rect x="961.68" y="1824.05" width="25.2" height="25.2" fill="#fff" stroke="#000" stroke-width="5.85"/>
<rect x="1232.62" y="1953.73" width="25.2" height="25.2" fill="#fff" stroke="#000" stroke-width="5.85"/>
<rect x="2045.44" y="2051.74" width="25.2" height="25.2" fill="#fff" stroke="#000" stroke-width="5.85"/>
<g fill="none" stroke="#000" stroke-width="5.8" stroke-linejoin="round">
<path d="M433 1252 433.34 1252.29 434.03 1252.88 434.96 1253.68 436.11 1254.67 437.44 1255.81 438.95 1257.1 440.61 1258.52 442.43 1260.06 444.38 1261.72 446.47 1263.5 448.69 1265.38 451.03 1267.36 453.5 1269.43 456.08 1271.6 458.77 1273.86 461.57 1276.21 464.48 1278.63 467.5 1281.14 470.62 1283.72 473.83 1286.38 477.15 1289.11 480.56 1291.91 484.07 1294.78 487.67 1297.71 491.36 1300.71 495.13 1303.76 499 1306.88 502.96 1310.05 507 1313.28 511.12 1316.57 515.33 1319.9 519.62 1323.29 523.99 1326.73 528.44 1330.21 532.97 1333.74 537.58 1337.32 542.27 1340.93 547.03 1344.59 551.87 1348.29 556.79 1352.03 561.77 1355.81 566.84 1359.62 571.97 1363.47 577.18 1367.35 582.46 1371.26 587.81 1375.21 593.23 1379.19 598.72 1383.19 604.27 1387.23 609.9 1391.29 615.59 1395.37 621.36 1399.48 627.19 1403.62 633.08 1407.77 639.04 1411.95 645.07 1416.15 651.16 1420.37 657.32 1424.6 663.54 1428.86 669.82 1433.13 676.17 1437.41 682.58 1441.71 689.05 1446.03 695.58 1450.36 702.18 1454.7 708.83 1459.05 715.55 1463.41 722.33 1467.78 729.17 1472.16 736.06 1476.55 743.02 1480.94 750.04 1485.34 757.11 1489.75 764.24 1494.16 771.43 1498.58 778.68 1503 785.99 1507.42 793.35 1511.84 800.77 1516.27 808.25 1520.69 815.78 1525.11 823.37 1529.54 831.02 1533.96 838.72 1538.38 846.47 1542.8 854.28 1547.21 862.15 1551.62 870.07 1556.03 878.04 1560.43 886.07 1564.83 894.15 1569.22 902.29 1573.6 910.47 1577.97 918.71 1582.34 927.01 1586.7 935.35 1591.05 943.75 1595.39 952.2 1599.72 960.71 1604.04 969.26 1608.35 977.87 1612.65 986.52 1616.93 995.23 1621.21 1003.99 1625.47 1012.8 1629.72 1021.66 1633.95 1030.57 1638.18 1039.53 1642.38 1048.54 1646.58 1057.6 1650.75 1066.71 1654.92 1075.87 1659.06 1085.08 1663.19 1094.34 1667.31 1103.65 1671.41 1113 1675.49 1122.4 1679.55 1131.86 1683.6 1141.36 1687.63 1150.9 1691.64 1160.5 1695.63 1170.14 1699.6 1179.83 1703.56 1189.57 1707.49 1199.36 1711.41 1209.19 1715.3 1219.07 1719.18 1229 1723.03 1238.97 1726.87 1248.99 1730.68 1259.06 1734.48 1269.17 1738.25 1279.33 1742 1289.53 1745.73 1299.78 1749.44 1310.08 1753.13 1320.42 1756.79 1330.81 1760.44 1341.24 1764.06 1351.72 1767.65 1362.24 1771.23 1372.8 1774.78 1383.42 1778.32 1394.07 1781.82 1404.77 1785.31 1415.52 1788.77 1426.31 1792.21 1437.14 1795.63 1448.02 1799.02 1458.94 1802.39 1469.91 1805.73 1480.92 1809.06 1491.97 1812.35 1503.06 1815.63 1514.2 1818.88 1525.39 1822.11 1536.61 1825.31 1547.88 1828.49 1559.19 1831.65 1570.54 1834.78 1581.94 1837.89 1593.38 1840.97 1604.86 1844.03 1616.39 1847.07 1627.95 1850.08 1639.56 1853.07 1651.21 1856.03 1662.9 1858.97 1674.64 1861.89 1686.41 1864.78 1698.23 1867.65 1710.09 1870.5 1721.99 1873.32 1733.93 1876.11 1745.92 1878.89 1757.94 1881.64 1770.01 1884.36 1782.11 1887.06 1794.26 1889.74 1806.45 1892.39 1818.68 1895.03 1830.95 1897.63 1843.26 1900.22 1855.61 1902.78 1868 1905.31 1880.43 1907.83 1892.9 1910.32 1905.41 1912.79 1917.96 1915.23 1930.55 1917.65 1943.18 1920.05 1955.85 1922.43 1968.56 1924.78 1981.31 1927.11 1994.1 1929.42 2006.93 1931.7 2019.8 1933.96 2032.71 1936.2 2045.65 1938.42 2058.64 1940.62" stroke-dasharray="0 2.35 11.5 19.6 11.5 19.6 11.5 20.4 11.5 20.4 11.5 20.6 11.5 19.8 11.5 19.8 11.5 20.6 11.5 19.36 11.5 21.87 11.5 19.74 11.5 19.74 11.5 21.09 11.5 20.26 11.5 20.58 11.5 20.58 11.5 20.58 11.5 20.65 11.5 22.03 11.5 20.14 11.5 21.52 11.5 21.22 11.5 21.48 11.5 21.42 11.5 20.53 11.5 20.53 11.5 20.53 11.5 20.53 11.5 20.53 11.5 20.53 11.5 20.53 11.5 20.53 11.5 20.53 11.5 20.53 11.5 20.53 11.5 20.53 11.5 20.53 11.5 19.79 11.5 19.82 11.5 19.65 11.5 19.58 11.5 19.62 11.5 19.46 11.5 19.4 11.5 19.45 11.5 19.22 11.5 19.22 11.5 19.22 11.5 19.38 11.5 18.93 11.5 18.99 11.5 19.26 11.5 18.83 11.5 18.9 11.5 18.77 11.5 19.1 11.5 19.1 11.5 1000"/>
<path d="M433 1252 433.34 1252.39 434.03 1253.17 434.96 1254.24 436.11 1255.55 437.44 1257.07 438.95 1258.78 440.61 1260.66 442.43 1262.71 444.38 1264.92 446.47 1267.27 448.69 1269.76 451.03 1272.38 453.5 1275.12 456.08 1277.99 458.77 1280.97 461.57 1284.06 464.48 1287.26 467.5 1290.56 470.62 1293.96 473.83 1297.45 477.15 1301.03 480.56 1304.7 484.07 1308.46 487.67 1312.29 491.36 1316.21 495.13 1320.19 499 1324.25 502.96 1328.38 507 1332.58 511.12 1336.84 515.33 1341.17 519.62 1345.55 523.99 1349.99 528.44 1354.48 532.97 1359.03 537.58 1363.63 542.27 1368.28 547.03 1372.97 551.87 1377.71 556.79 1382.49 561.77 1387.31 566.84 1392.16 571.97 1397.06 577.18 1401.99 582.46 1406.95 587.81 1411.94 593.23 1416.96 598.72 1422.01 604.27 1427.09 609.9 1432.19 615.59 1437.31 621.36 1442.45 627.19 1447.62 633.08 1452.8 639.04 1458 645.07 1463.21 651.16 1468.43 657.32 1473.67 663.54 1478.92 669.82 1484.18 676.17 1489.45 682.58 1494.72 689.05 1500 695.58 1505.29 702.18 1510.58 708.83 1515.87 715.55 1521.16 722.33 1526.45 729.17 1531.74 736.06 1537.02 743.02 1542.3 750.04 1547.58 757.11 1552.85 764.24 1558.12 771.43 1563.38 778.68 1568.63 785.99 1573.87 793.35 1579.1 800.77 1584.31 808.25 1589.52 815.78 1594.71 823.37 1599.89 831.02 1605.05 838.72 1610.2 846.47 1615.33 854.28 1620.45 862.15 1625.54 870.07 1630.62 878.04 1635.68 886.07 1640.72 894.15 1645.74 902.29 1650.73 910.47 1655.71 918.71 1660.66 927.01 1665.59 935.35 1670.5 943.75 1675.38 952.2 1680.24 960.71 1685.07 969.26 1689.88 977.87 1694.66 986.52 1699.41 995.23 1704.14 1003.99 1708.84 1012.8 1713.51 1021.66 1718.15 1030.57 1722.76 1039.53 1727.35 1048.54 1731.9 1057.6 1736.43 1066.71 1740.92 1075.87 1745.39 1085.08 1749.82 1094.34 1754.22 1103.65 1758.6 1113 1762.94 1122.4 1767.24 1131.86 1771.52 1141.36 1775.76 1150.9 1779.98 1160.5 1784.15 1170.14 1788.3 1179.83 1792.41 1189.57 1796.49 1199.36 1800.54 1209.19 1804.55 1219.07 1808.53 1229 1812.48 1238.97 1816.39 1248.99 1820.27 1259.06 1824.11 1269.17 1827.92 1279.33 1831.7 1289.53 1835.44 1299.78 1839.15 1310.08 1842.82 1320.42 1846.46 1330.81 1850.06 1341.24 1853.63 1351.72 1857.17 1362.24 1860.67 1372.8 1864.14 1383.42 1867.57 1394.07 1870.97 1404.77 1874.33 1415.52 1877.66 1426.31 1880.96 1437.14 1884.22 1448.02 1887.45 1458.94 1890.65 1469.91 1893.81 1480.92 1896.94 1491.97 1900.03 1503.06 1903.09 1514.2 1906.12 1525.39 1909.11 1536.61 1912.07 1547.88 1915 1559.19 1917.89 1570.54 1920.76 1581.94 1923.59 1593.38 1926.38 1604.86 1929.15 1616.39 1931.88 1627.95 1934.58 1639.56 1937.25 1651.21 1939.89 1662.9 1942.49 1674.64 1945.07 1686.41 1947.61 1698.23 1950.12 1710.09 1952.61 1721.99 1955.06 1733.93 1957.48 1745.92 1959.87 1757.94 1962.23 1770.01 1964.56 1782.11 1966.86 1794.26 1969.13 1806.45 1971.38 1818.68 1973.59 1830.95 1975.78 1843.26 1977.93 1855.61 1980.06 1868 1982.16 1880.43 1984.24 1892.9 1986.28 1905.41 1988.3 1917.96 1990.29 1930.55 1992.25 1943.18 1994.19 1955.85 1996.1 1968.56 1997.98 1981.31 1999.84 1994.1 2001.68 2006.93 2003.48 2019.8 2005.26 2032.71 2007.02 2045.65 2008.75 2058.64 2010.46"/>
<path d="M433 1252 433.34 1252.96 434.03 1254.91 434.96 1257.55 436.11 1260.78 437.44 1264.51 438.95 1268.71 440.61 1273.33 442.43 1278.33 444.38 1283.69 446.47 1289.38 448.69 1295.37 451.03 1301.66 453.5 1308.22 456.08 1315.03 458.77 1322.08 461.57 1329.35 464.48 1336.82 467.5 1344.49 470.62 1352.34 473.83 1360.35 477.15 1368.52 480.56 1376.84 484.07 1385.29 487.67 1393.85 491.36 1402.53 495.13 1411.32 499 1420.19 502.96 1429.15 507 1438.18 511.12 1447.27 515.33 1456.42 519.62 1465.62 523.99 1474.86 528.44 1484.13 532.97 1493.43 537.58 1502.75 542.27 1512.08 547.03 1521.41 551.87 1530.75 556.79 1540.07 561.77 1549.38 566.84 1558.68 571.97 1567.95 577.18 1577.19 582.46 1586.39 587.81 1595.56 593.23 1604.68 598.72 1613.76 604.27 1622.78 609.9 1631.74 615.59 1640.65 621.36 1649.49 627.19 1658.26 633.08 1666.97 639.04 1675.59 645.07 1684.14 651.16 1692.62 657.32 1701.01 663.54 1709.31 669.82 1717.53 676.17 1725.66 682.58 1733.69 689.05 1741.64 695.58 1749.48 702.18 1757.24 708.83 1764.89 715.55 1772.44 722.33 1779.9 729.17 1787.25 736.06 1794.5 743.02 1801.65 750.04 1808.69 757.11 1815.62 764.24 1822.45 771.43 1829.18 778.68 1835.8 785.99 1842.31 793.35 1848.72 800.77 1855.02 808.25 1861.21 815.78 1867.29 823.37 1873.27 831.02 1879.14 838.72 1884.91 846.47 1890.57 854.28 1896.13 862.15 1901.58 870.07 1906.93 878.04 1912.17 886.07 1917.31 894.15 1922.35 902.29 1927.29 910.47 1932.13 918.71 1936.87 927.01 1941.51 935.35 1946.05 943.75 1950.5 952.2 1954.85 960.71 1959.1 969.26 1963.27 977.87 1967.34 986.52 1971.32 995.23 1975.2 1003.99 1979 1012.8 1982.72 1021.66 1986.34 1030.57 1989.88 1039.53 1993.34 1048.54 1996.71 1057.6 2000 1066.71 2003.22 1075.87 2006.35 1085.08 2009.41 1094.34 2012.38 1103.65 2015.29 1113 2018.12 1122.4 2020.88 1131.86 2023.56 1141.36 2026.18 1150.9 2028.73 1160.5 2031.21 1170.14 2033.63 1179.83 2035.98 1189.57 2038.27 1199.36 2040.49 1209.19 2042.66 1219.07 2044.76 1229 2046.81 1238.97 2048.8 1248.99 2050.73 1259.06 2052.61 1269.17 2054.44 1279.33 2056.21 1289.53 2057.93 1299.78 2059.6 1310.08 2061.23 1320.42 2062.8 1330.81 2064.33 1341.24 2065.82 1351.72 2067.26 1362.24 2068.65 1372.8 2070.01 1383.42 2071.32 1394.07 2072.59 1404.77 2073.83 1415.52 2075.02 1426.31 2076.18 1437.14 2077.3 1448.02 2078.39 1458.94 2079.44 1469.91 2080.46 1480.92 2081.45 1491.97 2082.4 1503.06 2083.33 1514.2 2084.22 1525.39 2085.09 1536.61 2085.92 1547.88 2086.73 1559.19 2087.52 1570.54 2088.27 1581.94 2089 1593.38 2089.71 1604.86 2090.39 1616.39 2091.05 1627.95 2091.69 1639.56 2092.31 1651.21 2092.9 1662.9 2093.47 1674.64 2094.03 1686.41 2094.56 1698.23 2095.08 1710.09 2095.58 1721.99 2096.06 1733.93 2096.52 1745.92 2096.97 1757.94 2097.4 1770.01 2097.82 1782.11 2098.22 1794.26 2098.6 1806.45 2098.97 1818.68 2099.33 1830.95 2099.68 1843.26 2100.01 1855.61 2100.33 1868 2100.64 1880.43 2100.94 1892.9 2101.22 1905.41 2101.5 1917.96 2101.76 1930.55 2102.02 1943.18 2102.26 1955.85 2102.5 1968.56 2102.73 1981.31 2102.94 1994.1 2103.15 2006.93 2103.36 2019.8 2103.55 2032.71 2103.74 2045.65 2103.92 2058.64 2104.09"/>
<path d="M433 1252 433.34 1252.57 434.03 1253.72 434.96 1255.28 436.11 1257.19 437.44 1259.41 438.95 1261.9 440.61 1264.65 442.43 1267.64 444.38 1270.85 446.47 1274.26 448.69 1277.87 451.03 1281.67 453.5 1285.64 456.08 1289.78 458.77 1294.08 461.57 1298.53 464.48 1303.13 467.5 1307.86 470.62 1312.73 473.83 1317.72 477.15 1322.82 480.56 1328.05 484.07 1333.38 487.67 1338.81 491.36 1344.34 495.13 1349.97 499 1355.68 502.96 1361.48 507 1367.36 511.12 1373.31 515.33 1379.33 519.62 1385.42 523.99 1391.57 528.44 1397.78 532.97 1404.05 537.58 1410.37 542.27 1416.74 547.03 1423.15 551.87 1429.6 556.79 1436.09 561.77 1442.61 566.84 1449.17 571.97 1455.75 577.18 1462.36 582.46 1469 587.81 1475.65 593.23 1482.32 598.72 1489 604.27 1495.69 609.9 1502.4 615.59 1509.1 621.36 1515.82 627.19 1522.53 633.08 1529.24 639.04 1535.95 645.07 1542.66 651.16 1549.35 657.32 1556.04 663.54 1562.72 669.82 1569.38 676.17 1576.02 682.58 1582.65 689.05 1589.26 695.58 1595.85 702.18 1602.41 708.83 1608.95 715.55 1615.47 722.33 1621.96 729.17 1628.41 736.06 1634.84 743.02 1641.24 750.04 1647.6 757.11 1653.93 764.24 1660.22 771.43 1666.47 778.68 1672.69 785.99 1678.87 793.35 1685 800.77 1691.1 808.25 1697.15 815.78 1703.16 823.37 1709.13 831.02 1715.05 838.72 1720.92 846.47 1726.75 854.28 1732.53 862.15 1738.26 870.07 1743.95 878.04 1749.58 886.07 1755.17 894.15 1760.7 902.29 1766.18 910.47 1771.61 918.71 1776.99 927.01 1782.32 935.35 1787.59 943.75 1792.82 952.2 1797.98 960.71 1803.1 969.26 1808.16 977.87 1813.16 986.52 1818.11 995.23 1823.01 1003.99 1827.85 1012.8 1832.64 1021.66 1837.37 1030.57 1842.04 1039.53 1846.67 1048.54 1851.23 1057.6 1855.74 1066.71 1860.2 1075.87 1864.6 1085.08 1868.94 1094.34 1873.23 1103.65 1877.47 1113 1881.65 1122.4 1885.77 1131.86 1889.85 1141.36 1893.86 1150.9 1897.82 1160.5 1901.73 1170.14 1905.59 1179.83 1909.39 1189.57 1913.14 1199.36 1916.83 1209.19 1920.47 1219.07 1924.06 1229 1927.6 1238.97 1931.09 1248.99 1934.52 1259.06 1937.9 1269.17 1941.23 1279.33 1944.51 1289.53 1947.75 1299.78 1950.93 1310.08 1954.06 1320.42 1957.14 1330.81 1960.18 1341.24 1963.16 1351.72 1966.1 1362.24 1968.99 1372.8 1971.83 1383.42 1974.63 1394.07 1977.38 1404.77 1980.09 1415.52 1982.75 1426.31 1985.37 1437.14 1987.94 1448.02 1990.46 1458.94 1992.95 1469.91 1995.39 1480.92 1997.79 1491.97 2000.15 1503.06 2002.46 1514.2 2004.74 1525.39 2006.97 1536.61 2009.17 1547.88 2011.32 1559.19 2013.44 1570.54 2015.51 1581.94 2017.55 1593.38 2019.55 1604.86 2021.52 1616.39 2023.45 1627.95 2025.34 1639.56 2027.19 1651.21 2029.01 1662.9 2030.8 1674.64 2032.55 1686.41 2034.27 1698.23 2035.96 1710.09 2037.61 1721.99 2039.23 1733.93 2040.82 1745.92 2042.37 1757.94 2043.9 1770.01 2045.39 1782.11 2046.86 1794.26 2048.29 1806.45 2049.7 1818.68 2051.08 1830.95 2052.43 1843.26 2053.75 1855.61 2055.05 1868 2056.31 1880.43 2057.56 1892.9 2058.77 1905.41 2059.96 1917.96 2061.13 1930.55 2062.27 1943.18 2063.38 1955.85 2064.48 1968.56 2065.54 1981.31 2066.59 1994.1 2067.61 2006.93 2068.61 2019.8 2069.59 2032.71 2070.55 2045.65 2071.49 2058.64 2072.4" stroke-dasharray="34.95 20.85 36.5 20.85 36.5 20.85 36.5 22.07 36.5 22.07 36.5 22.07 36.5 22.07 36.5 22.07 36.5 22.07 36.5 22.07 36.5 23.3 36.5 21.86 36.5 22.53 36.5 22.17 36.5 22.17 36.5 22.17 36.5 22.17 36.5 22.17 36.5 22.17 36.5 22.17 36.5 22.17 36.5 22.17 36.5 18.92 36.5 19.28 36.5 20.39 36.5 19.41 36.5 18.75 36.5 18.75 36.5 18.75 36.5 18.75 36.5 18.75 36.5 19.1 36.5 18.5 36.5 18.5 36.5 1000"/>
</g>
</svg>
</body></html>
